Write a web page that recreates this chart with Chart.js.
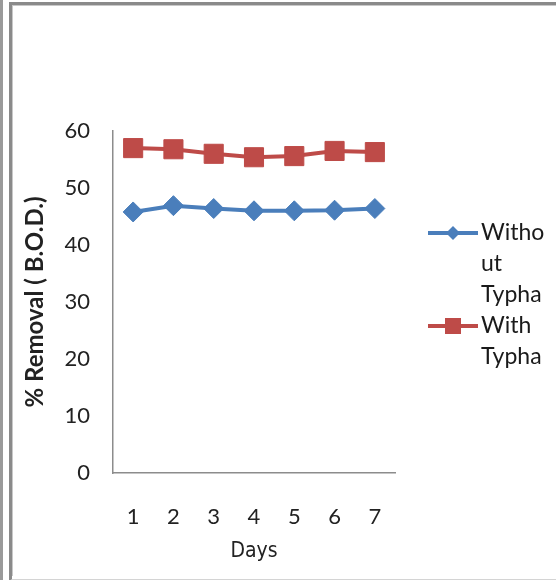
<!DOCTYPE html>
<html>
<head>
<meta charset="utf-8">
<script src="https://cdn.jsdelivr.net/npm/chart.js@4"></script>
<style>
  html, body { margin: 0; padding: 0; background: #fff; }
  body { width: 556px; height: 580px; position: relative; overflow: hidden; }
  #strip { position: absolute; left: 0; top: 0; width: 3px; height: 580px; background: #9a9a9a; }
  #frame { position: absolute; left: 9px; top: 2px; width: 560px; height: 574px;
           border-left: 3px solid #8a8a8a; border-top: 3px solid #8a8a8a; border-bottom: 2px solid #d4d4d4; }
  #frame2 { position: absolute; left: 12px; top: 5px; width: 560px; height: 570px;
            border-left: 1px solid #c8c8c8; border-top: 1px solid #c8c8c8; }
  canvas { position: absolute; left: 0; top: 0; }
</style>
</head>
<body>
<div id="strip"></div>
<div id="frame"></div>
<div id="frame2"></div>
<canvas id="c" width="556" height="580"></canvas>
<script>
const days = ["1", "2", "3", "4", "5", "6", "7"];
const withoutTypha = [45.8, 46.9, 46.4, 46.0, 46.0, 46.1, 46.4];
const withTypha = [57.0, 56.8, 56.0, 55.4, 55.6, 56.5, 56.3];
const seriesNames = ["Without Typha", "With Typha"];
const legendLines = [["Witho", "ut", "Typha"], ["With", "Typha"]];
const yTicks = [0, 10, 20, 30, 40, 50, 60];
const yTitle = "% Removal ( B.O.D.)";
const xTitle = "Days";

const blue = "#4a7ebb";
const red = "#be4b48";

const customLegend = {
  id: "customLegend",
  afterDraw(chart) {
    const ctx = chart.ctx;
    const area = chart.chartArea;
    const x0 = area.right + 33, x1 = area.right + 83, tx = area.right + 86;
    const lh = 31;
    let y = area.top + 102;
    ctx.save();
    ctx.font = "23px Lato";
    ctx.textBaseline = "middle";
    ctx.textAlign = "left";
    chart.data.datasets.forEach((ds, i) => {
      ctx.strokeStyle = ds.borderColor;
      ctx.fillStyle = ds.borderColor;
      ctx.lineWidth = 4;
      ctx.beginPath(); ctx.moveTo(x0, y); ctx.lineTo(x1, y); ctx.stroke();
      const cx = (x0 + x1) / 2;
      ctx.beginPath();
      if (i === 0) {
        const r = 7;
        ctx.moveTo(cx - r, y); ctx.lineTo(cx, y - r); ctx.lineTo(cx + r, y); ctx.lineTo(cx, y + r);
        ctx.closePath();
      } else {
        const s = 8;
        ctx.rect(cx - s, y - s, 2 * s, 2 * s);
      }
      ctx.fill();
      ctx.fillStyle = "#1a1a1a";
      legendLines[i].forEach((t, k) => { ctx.fillText(t, tx, y + k * lh); });
      y += legendLines[i].length * lh;
    });
    ctx.restore();
  }
};

new Chart(document.getElementById("c"), {
  type: "line",
  data: {
    labels: days,
    datasets: [
      { label: seriesNames[0], data: withoutTypha, borderColor: blue, backgroundColor: blue,
        borderWidth: 4, pointStyle: "rectRot", pointRadius: 10, pointBorderWidth: 1,
        pointBackgroundColor: blue, pointBorderColor: blue, tension: 0 },
      { label: seriesNames[1], data: withTypha, borderColor: red, backgroundColor: red,
        borderWidth: 4, pointStyle: "rect", pointRadius: 13.5, pointBorderWidth: 1,
        pointBackgroundColor: red, pointBorderColor: red, tension: 0 }
    ]
  },
  options: {
    responsive: false,
    animation: false,
    layout: { padding: { top: 131, right: 161, bottom: 0, left: 0 } },
    plugins: { legend: { display: false }, tooltip: { enabled: false } },
    scales: {
      x: {
        offset: true,
        grid: { display: false, drawTicks: false },
        border: { display: true, color: "#8c8c8c", width: 1.5 },
        ticks: { padding: 31, color: "#222", font: { family: "Lato", size: 22 }, maxRotation: 0 },
        title: { display: true, text: xTitle, color: "#222", padding: { top: 0, bottom: 16 },
                 font: { family: "'Liberation Sans Narrow', 'DejaVu Sans Condensed', sans-serif", size: 21 } },
        afterFit(scale) { scale.height = 107; }
      },
      y: {
        min: 0, max: 60,
        afterBuildTicks(scale) { scale.ticks = yTicks.map(v => ({ value: v })); },
        grid: { display: false, drawTicks: false },
        border: { display: true, color: "#8c8c8c", width: 1.5 },
        ticks: { padding: 23, color: "#222", font: { family: "Lato", size: 22 } },
        title: { display: true, text: yTitle, color: "#222", padding: { top: 21, bottom: 0 },
                 font: { family: "Lato", size: 24, weight: "bold" } },
        afterFit(scale) { scale.width = 113; }
      }
    }
  },
  plugins: [customLegend]
});
</script>
</body>
</html>
